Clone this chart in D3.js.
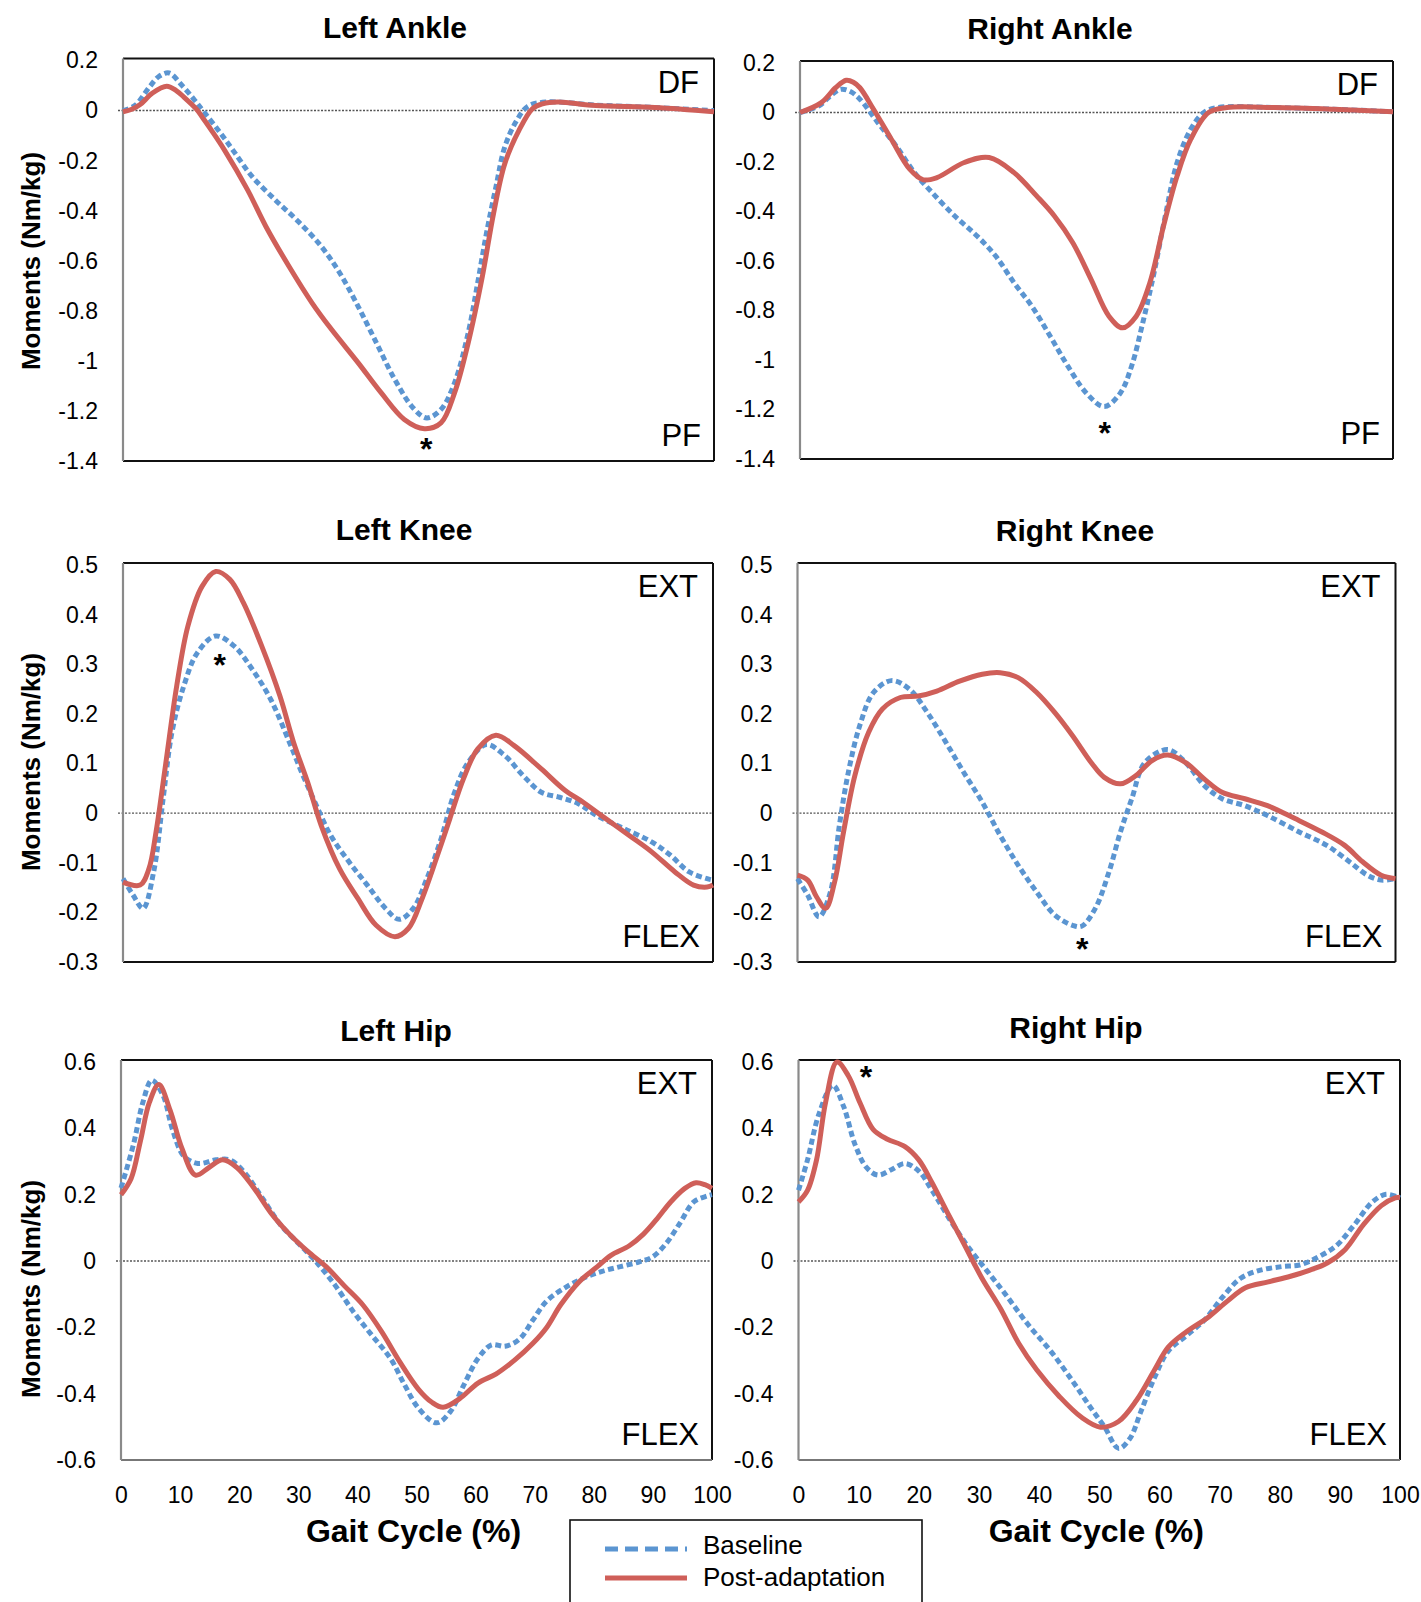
<!DOCTYPE html>
<html lang="en">
<head>
<meta charset="UTF-8">
<title>Joint moments</title>
<style>
  body { margin: 0; background: #fff; }
  svg { display: block; }
  text { font-family: "Liberation Sans", Arial, sans-serif; fill: #000; }
</style>
</head>
<body>
<svg id="chart" width="1421" height="1602"></svg>
<script src="https://d3js.org/d3.v7.min.js"></script>
<script>

// ---- data: [gait cycle %, moment Nm/kg] ----
var leftAnkleBase = [[0,0],[2,0.02],[4.5,0.095],[6,0.135],[7.8,0.15],[10,0.1],[12,0.045],[13.5,0.0],[16.5,-0.09],[18.8,-0.165],[21.9,-0.265],[25.8,-0.358],[29.7,-0.444],[33.6,-0.544],[36.7,-0.65],[39.8,-0.783],[42.9,-0.929],[46,-1.075],[49.1,-1.188],[51.4,-1.228],[53.8,-1.194],[56.1,-1.088],[58.4,-0.889],[60,-0.69],[61.5,-0.49],[63.1,-0.305],[64.6,-0.145],[66.6,-0.04],[68.5,0.017],[71.6,0.034],[80,0.022],[90,0.012],[100,0.0]];
var leftAnklePost = [[0,-0.005],[1.5,0.005],[2.9,0.024],[5,0.07],[7.4,0.097],[9,0.08],[10.3,0.054],[12.5,0.004],[13.4,-0.026],[15,-0.08],[17.2,-0.159],[21.1,-0.318],[24.2,-0.464],[28.1,-0.623],[32,-0.769],[35.1,-0.869],[39.8,-1.008],[43.7,-1.128],[47.6,-1.234],[51,-1.271],[53.8,-1.248],[56.1,-1.128],[58.4,-0.929],[60.8,-0.663],[62.7,-0.411],[64.6,-0.212],[67,-0.079],[69.3,0.008],[71,0.027],[73.6,0.034],[80,0.02],[90,0.012],[100,-0.005]];

var rightAnkleBase = [[0,0],[3.2,0.027],[5.5,0.075],[6.9,0.094],[8.5,0.085],[10.1,0.054],[13.1,-0.04],[16.2,-0.135],[19.3,-0.243],[22.3,-0.324],[26.1,-0.418],[29.9,-0.5],[33,-0.58],[36.1,-0.688],[39.1,-0.783],[42.2,-0.904],[45.2,-1.026],[48.3,-1.134],[51.3,-1.188],[54,-1.134],[55.9,-1.026],[57.8,-0.85],[59.7,-0.648],[61.6,-0.418],[63.6,-0.202],[65.9,-0.067],[68.1,0.0],[70.4,0.02],[80,0.02],[90,0.013],[100,0.003]];
var rightAnklePost = [[0,0],[3.6,0.04],[6,0.1],[7.8,0.13],[9,0.122],[10.1,0.1],[12.4,0.013],[15.4,-0.108],[18.5,-0.229],[20.8,-0.272],[23.1,-0.263],[27.7,-0.202],[31.9,-0.182],[36.1,-0.243],[39.9,-0.337],[42.9,-0.418],[46,-0.526],[49.1,-0.675],[52.1,-0.823],[54.4,-0.87],[56.7,-0.823],[59,-0.688],[61.3,-0.459],[63.6,-0.256],[65.9,-0.108],[68.9,0.0],[72,0.02],[80,0.02],[90,0.013],[100,0.003]];

var leftKneeBase = [[0,-0.132],[1.7,-0.165],[3.4,-0.192],[5.2,-0.118],[6.8,0.029],[8.3,0.163],[10.3,0.256],[12.6,0.323],[15.7,0.357],[18.8,0.337],[21.9,0.29],[25,0.23],[28.2,0.143],[30.5,0.076],[32.8,0.015],[35.2,-0.045],[38.3,-0.098],[41.4,-0.145],[44.5,-0.192],[46.8,-0.214],[49.2,-0.192],[51.5,-0.132],[53.9,-0.052],[56.2,0.042],[58.5,0.102],[61.6,0.138],[64.7,0.116],[67.8,0.076],[70.9,0.042],[74,0.032],[77.2,0.019],[80.3,-0.005],[84.9,-0.031],[89.6,-0.058],[92.8,-0.085],[95.9,-0.118],[99,-0.132],[100,-0.135]];
var leftKneePost = [[0,-0.139],[2.9,-0.145],[4.4,-0.112],[5.6,-0.038],[7.2,0.096],[9.1,0.256],[11,0.377],[13.4,0.457],[15.7,0.487],[18.1,0.471],[20.4,0.424],[23.5,0.337],[26.6,0.236],[28.9,0.143],[31.3,0.062],[33.6,-0.025],[36.7,-0.112],[39.8,-0.172],[42.9,-0.226],[46.1,-0.249],[48.4,-0.232],[50.7,-0.172],[53.1,-0.092],[55.4,-0.011],[57.7,0.069],[60.1,0.129],[63.2,0.157],[66.3,0.136],[70.9,0.089],[74.9,0.046],[78,0.022],[81.1,-0.005],[85.8,-0.045],[89.6,-0.078],[93.5,-0.118],[96.7,-0.145],[99,-0.149],[100,-0.145]];

var rightKneeBase = [[0,-0.132],[1.7,-0.165],[3.6,-0.209],[5.5,-0.159],[7,-0.025],[8.5,0.082],[10.4,0.176],[12.7,0.243],[15.7,0.267],[18.7,0.25],[21.7,0.203],[24.8,0.143],[27.8,0.082],[30.9,0.022],[33.9,-0.045],[36.9,-0.105],[40,-0.159],[43,-0.205],[46,-0.226],[47.5,-0.228],[49.8,-0.192],[52.1,-0.118],[54,-0.038],[55.9,0.029],[58.1,0.102],[61.9,0.128],[64.9,0.102],[68,0.056],[71,0.029],[74.8,0.015],[78.6,-0.005],[83.9,-0.038],[88.5,-0.065],[92.3,-0.098],[95.3,-0.125],[97.6,-0.135],[100,-0.132]];
var rightKneePost = [[0,-0.125],[1.7,-0.135],[3.2,-0.169],[4.7,-0.192],[6.2,-0.139],[7.7,-0.038],[9.6,0.076],[11.9,0.163],[14.2,0.21],[17.2,0.233],[20.2,0.236],[23.3,0.246],[27.1,0.266],[30.9,0.28],[33.9,0.283],[36.9,0.273],[40,0.243],[43,0.203],[46,0.156],[49.1,0.102],[51.3,0.072],[54,0.059],[56.6,0.076],[59.3,0.106],[61.9,0.117],[64.9,0.102],[68,0.069],[71,0.042],[74.8,0.029],[78.6,0.015],[83.2,-0.011],[87.7,-0.038],[91.5,-0.065],[94.5,-0.098],[97.6,-0.125],[100,-0.132]];

var leftHipBase = [[0,0.22],[2.1,0.351],[3.7,0.478],[5.2,0.545],[7.1,0.5],[8.7,0.397],[10.6,0.317],[13,0.294],[16.1,0.305],[18.4,0.305],[20.7,0.271],[23.9,0.19],[27,0.109],[30.1,0.052],[33.2,-0.006],[36.3,-0.075],[39.4,-0.155],[42.5,-0.225],[45.6,-0.294],[48,-0.374],[50.3,-0.443],[53.4,-0.488],[55.7,-0.455],[58,-0.374],[60.4,-0.294],[62.7,-0.253],[65,-0.257],[67.4,-0.236],[69.7,-0.178],[72,-0.121],[75.1,-0.081],[78.2,-0.052],[81.4,-0.031],[84.5,-0.017],[87.6,-0.003],[89.9,0.012],[92.2,0.052],[94.6,0.115],[96.9,0.178],[99.2,0.196],[100,0.2]];
var leftHipPost = [[0,0.2],[1.7,0.248],[3.3,0.363],[4.8,0.478],[6.4,0.532],[8.3,0.455],[10.3,0.34],[12.6,0.259],[14.9,0.282],[17.2,0.305],[19.6,0.282],[22.3,0.225],[25.4,0.144],[28.5,0.081],[31.6,0.029],[34.7,-0.017],[37.8,-0.075],[40.9,-0.132],[44.1,-0.213],[47.2,-0.305],[50.3,-0.386],[52.6,-0.426],[54.5,-0.441],[57.3,-0.415],[60.4,-0.368],[63.5,-0.34],[66.6,-0.299],[69.7,-0.248],[72,-0.201],[74.4,-0.132],[77.5,-0.063],[80.6,-0.017],[82.9,0.017],[86,0.046],[88.4,0.081],[90.7,0.127],[93,0.178],[95.4,0.219],[97.3,0.236],[98.8,0.23],[100,0.219]];

var rightHipBase = [[0,0.213],[1.5,0.305],[3.4,0.443],[5.7,0.53],[7.5,0.466],[9.4,0.351],[11.3,0.282],[13.2,0.259],[15.5,0.276],[17.7,0.294],[20,0.271],[22.2,0.213],[25.3,0.121],[28.3,0.04],[31.3,-0.029],[34.3,-0.098],[38.1,-0.19],[41.9,-0.271],[45.6,-0.363],[48.6,-0.443],[50.9,-0.501],[53.2,-0.565],[55.1,-0.535],[56.9,-0.455],[59.2,-0.351],[61.5,-0.271],[64.5,-0.225],[67.5,-0.178],[70.5,-0.109],[73.5,-0.052],[76.5,-0.029],[80.3,-0.017],[83.3,-0.012],[86.4,0.012],[89.4,0.046],[92.4,0.109],[95.4,0.178],[97.7,0.201],[100,0.19]];
var rightHipPost = [[0,0.178],[1.5,0.213],[3,0.305],[4.5,0.478],[6.4,0.6],[8.3,0.558],[10.2,0.478],[12.4,0.397],[14.7,0.368],[17.7,0.345],[20,0.305],[22.2,0.236],[24.5,0.155],[27.5,0.052],[30.5,-0.052],[33.6,-0.144],[36.6,-0.248],[39.6,-0.328],[43.4,-0.409],[47.1,-0.472],[50.2,-0.501],[53.2,-0.484],[56.2,-0.42],[59.2,-0.328],[61.5,-0.259],[64.5,-0.213],[68.3,-0.167],[71.3,-0.121],[74.3,-0.081],[78.1,-0.063],[81.8,-0.046],[84.8,-0.029],[87.9,-0.006],[90.9,0.035],[93.9,0.109],[96.9,0.167],[99.2,0.19],[100,0.192]];

// tick values
var ankleTicks = [0.2, 0, -0.2, -0.4, -0.6, -0.8, -1, -1.2, -1.4];
var kneeTicks = [0.5, 0.4, 0.3, 0.2, 0.1, 0, -0.1, -0.2, -0.3];
var hipTicks = [0.6, 0.4, 0.2, 0, -0.2, -0.4, -0.6];
var gaitTicks = [0, 10, 20, 30, 40, 50, 60, 70, 80, 90, 100];

// significance markers: [gait %, moment]
var leftAnkleStar = [51.3, -1.33];
var rightAnkleStar = [51.4, -1.27];
var leftKneeStar = [16.4, 0.31];
var rightKneeStar = [47.6, -0.262];
var rightHipStar = [11.2, 0.573];

var seriesNames = ["Baseline", "Post-adaptation"];
var blue = "#5b95d1", red = "#cf5f59";

var panels = [
  {title: "Left Ankle", base: leftAnkleBase, post: leftAnklePost, ticks: ankleTicks, top: "DF", bottom: "PF", star: leftAnkleStar,
   x0: 123, x1: 714, y0: 60.5, y1: 461, tx: 395, ty: 27, yLab: 261},
  {title: "Right Ankle", base: rightAnkleBase, post: rightAnklePost, ticks: ankleTicks, top: "DF", bottom: "PF", star: rightAnkleStar,
   x0: 800, x1: 1393, y0: 63, y1: 459, tx: 1050, ty: 28},
  {title: "Left Knee", base: leftKneeBase, post: leftKneePost, ticks: kneeTicks, top: "EXT", bottom: "FLEX", star: leftKneeStar,
   x0: 123, x1: 713, y0: 565, y1: 962, tx: 404, ty: 529, yLab: 762},
  {title: "Right Knee", base: rightKneeBase, post: rightKneePost, ticks: kneeTicks, top: "EXT", bottom: "FLEX", star: rightKneeStar,
   x0: 797.5, x1: 1395.5, y0: 565, y1: 962, tx: 1075, ty: 530},
  {title: "Left Hip", base: leftHipBase, post: leftHipPost, ticks: hipTicks, top: "EXT", bottom: "FLEX", star: null,
   x0: 121, x1: 712, y0: 1062, y1: 1460, tx: 396, ty: 1030, yLab: 1289, xAxis: true},
  {title: "Right Hip", base: rightHipBase, post: rightHipPost, ticks: hipTicks, top: "EXT", bottom: "FLEX", star: rightHipStar,
   x0: 798.5, x1: 1400, y0: 1062, y1: 1460, tx: 1076, ty: 1027, xAxis: true}
];

var svg = d3.select("#chart");
var fmt = function(d) { return String(+d.toFixed(1)); };

panels.forEach(function(p) {
  var ext = d3.extent(p.ticks);
  var x = d3.scaleLinear().domain([0, 100]).range([p.x0, p.x1]);
  var y = d3.scaleLinear().domain(ext).range([p.y1, p.y0]);
  var g = svg.append("g");

  // title
  g.append("text")
    .attr("x", p.tx).attr("y", p.ty + 11)
    .attr("text-anchor", "middle")
    .style("font-size", "30px").style("font-weight", "bold")
    .text(p.title);

  // y axis labels
  var ya = g.append("g")
    .attr("transform", "translate(" + p.x0 + ",0)")
    .call(d3.axisLeft(y).tickValues(p.ticks).tickFormat(fmt).tickSize(0).tickPadding(25));
  ya.select(".domain").remove();
  ya.selectAll("text").style("font-size", "23px").style("font-family", "'Liberation Sans', Arial, sans-serif");

  if (p.yLab) {
    g.append("text")
      .attr("transform", "translate(40," + p.yLab + ") rotate(-90)")
      .attr("text-anchor", "middle")
      .style("font-size", "26px").style("font-weight", "bold")
      .text("Moments (Nm/kg)");
  }

  if (p.xAxis) {
    var xa = g.append("g")
      .attr("transform", "translate(0," + p.y1 + ")")
      .call(d3.axisBottom(x).tickValues(gaitTicks).tickSize(0).tickPadding(27));
    xa.select(".domain").remove();
    xa.selectAll("text").style("font-size", "23px").style("font-family", "'Liberation Sans', Arial, sans-serif");

    g.append("text")
      .attr("x", (p.x0 + p.x1) / 2 - 3).attr("y", p.y1 + 82)
      .attr("text-anchor", "middle")
      .style("font-size", "32px").style("font-weight", "bold")
      .text("Gait Cycle (%)");
  }

  // zero reference line
  g.append("line")
    .attr("x1", p.x0 - 5).attr("x2", p.x1)
    .attr("y1", y(0)).attr("y2", y(0))
    .attr("stroke", "#555").attr("stroke-width", 1.4)
    .attr("stroke-dasharray", "2,1.5");

  // frame
  var y0f = p.y0 - 2;
  g.append("line").attr("x1", p.x0).attr("x2", p.x1).attr("y1", y0f).attr("y2", y0f)
    .attr("stroke", "#111").attr("stroke-width", 2);
  g.append("line").attr("x1", p.x1).attr("x2", p.x1).attr("y1", y0f).attr("y2", p.y1)
    .attr("stroke", "#111").attr("stroke-width", 2);
  g.append("line").attr("x1", p.x0).attr("x2", p.x1).attr("y1", p.y1).attr("y2", p.y1)
    .attr("stroke", p.xAxis ? "#777" : "#111").attr("stroke-width", 2);
  g.append("line").attr("x1", p.x0).attr("x2", p.x0).attr("y1", y0f).attr("y2", p.y1)
    .attr("stroke", "#8a8a8a").attr("stroke-width", 2.2);

  var line = d3.line()
    .x(function(d) { return x(d[0]); })
    .y(function(d) { return y(d[1]); })
    .curve(d3.curveCatmullRom.alpha(0.5));

  g.append("path").datum(p.base)
    .attr("d", line).attr("fill", "none")
    .attr("stroke", blue).attr("stroke-width", 5)
    .attr("stroke-dasharray", "6,3.5");

  g.append("path").datum(p.post)
    .attr("d", line).attr("fill", "none")
    .attr("stroke", red).attr("stroke-width", 5)
    .attr("stroke-linejoin", "round");

  // direction labels
  g.append("text")
    .attr("x", p.x1 - 15).attr("y", p.y0 + 32)
    .attr("text-anchor", "end").style("font-size", "31px")
    .text(p.top);
  g.append("text")
    .attr("x", p.x1 - 13).attr("y", p.y1 - 15)
    .attr("text-anchor", "end").style("font-size", "31px")
    .text(p.bottom);

  if (p.star) {
    g.append("text")
      .attr("x", x(p.star[0])).attr("y", y(p.star[1]) + 17)
      .attr("text-anchor", "middle")
      .style("font-size", "32px").style("font-weight", "bold")
      .text("*");
  }
});

// legend
var leg = svg.append("g");
leg.append("rect")
  .attr("x", 570).attr("y", 1520).attr("width", 352).attr("height", 110)
  .attr("fill", "none").attr("stroke", "#111").attr("stroke-width", 1.6);
[[blue, "13,7"], [red, null]].forEach(function(s, i) {
  var ly = 1549 + i * 29;
  leg.append("line")
    .attr("x1", 605).attr("x2", 687).attr("y1", ly).attr("y2", ly)
    .attr("stroke", s[0]).attr("stroke-width", 5)
    .attr("stroke-dasharray", s[1]);
  leg.append("text")
    .attr("x", 703).attr("y", ly + 5 + i * 3)
    .style("font-size", "26px")
    .text(seriesNames[i]);
});

</script>
</body>
</html>
